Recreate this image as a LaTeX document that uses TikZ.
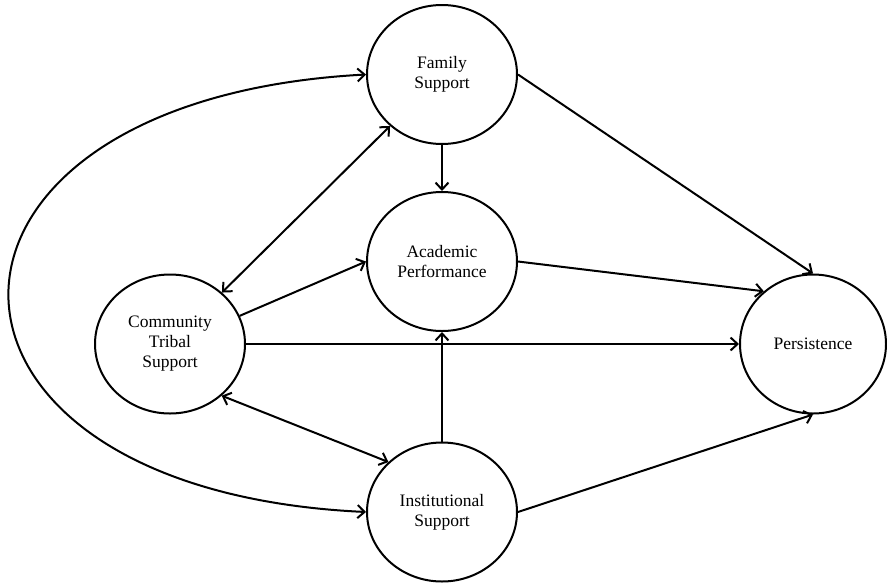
\documentclass[tikz,border=0pt]{standalone}
\usepackage{fontspec}
\setmainfont{Liberation Serif}
\usetikzlibrary{shapes.geometric,arrows.meta}
\begin{document}
\begin{tikzpicture}[x=1pt,y=-1pt,
  circ/.style={draw, ellipse, line width=2pt, minimum width=150pt, minimum height=139pt,
    inner sep=0pt, align=center, font=\fontsize{17.5}{20}\selectfont},
  tip/.tip={Straight Barb[length=7pt,width=13pt]},
  link/.style={line width=2pt, -tip},
  dlink/.style={line width=2pt, tip-tip}]
\useasboundingbox (0,0) rectangle (887,582);
\node[circ] (fam) at (442,74.5) {Family\\Support};
\node[circ] (acad) at (442,261.5) {Academic\\Performance};
\node[circ] (comm) at (170,344) {Community\\Tribal\\Support};
\node[circ] (inst) at (442,512) {Institutional\\Support};
\node[circ, minimum width=146pt] (pers) at (813,344) {Persistence};

\draw[dlink] (inst.west) .. controls (-110,490) and (-110,100) .. (fam.west);
\draw[link] (fam) -- (acad);
\draw[dlink] (comm) -- (fam);
\draw[link] (comm.22) -- (acad.west);
\draw[link] (comm.east) -- (pers.west);
\draw[dlink] (comm.-45) -- (inst.137);
\draw[link] (inst) -- (acad);
\draw[link] (fam.east) -- (pers.north);
\draw[link] (acad.east) -- (pers.133);
\draw[link] (inst.east) -- (pers.south);
\end{tikzpicture}
\end{document}
